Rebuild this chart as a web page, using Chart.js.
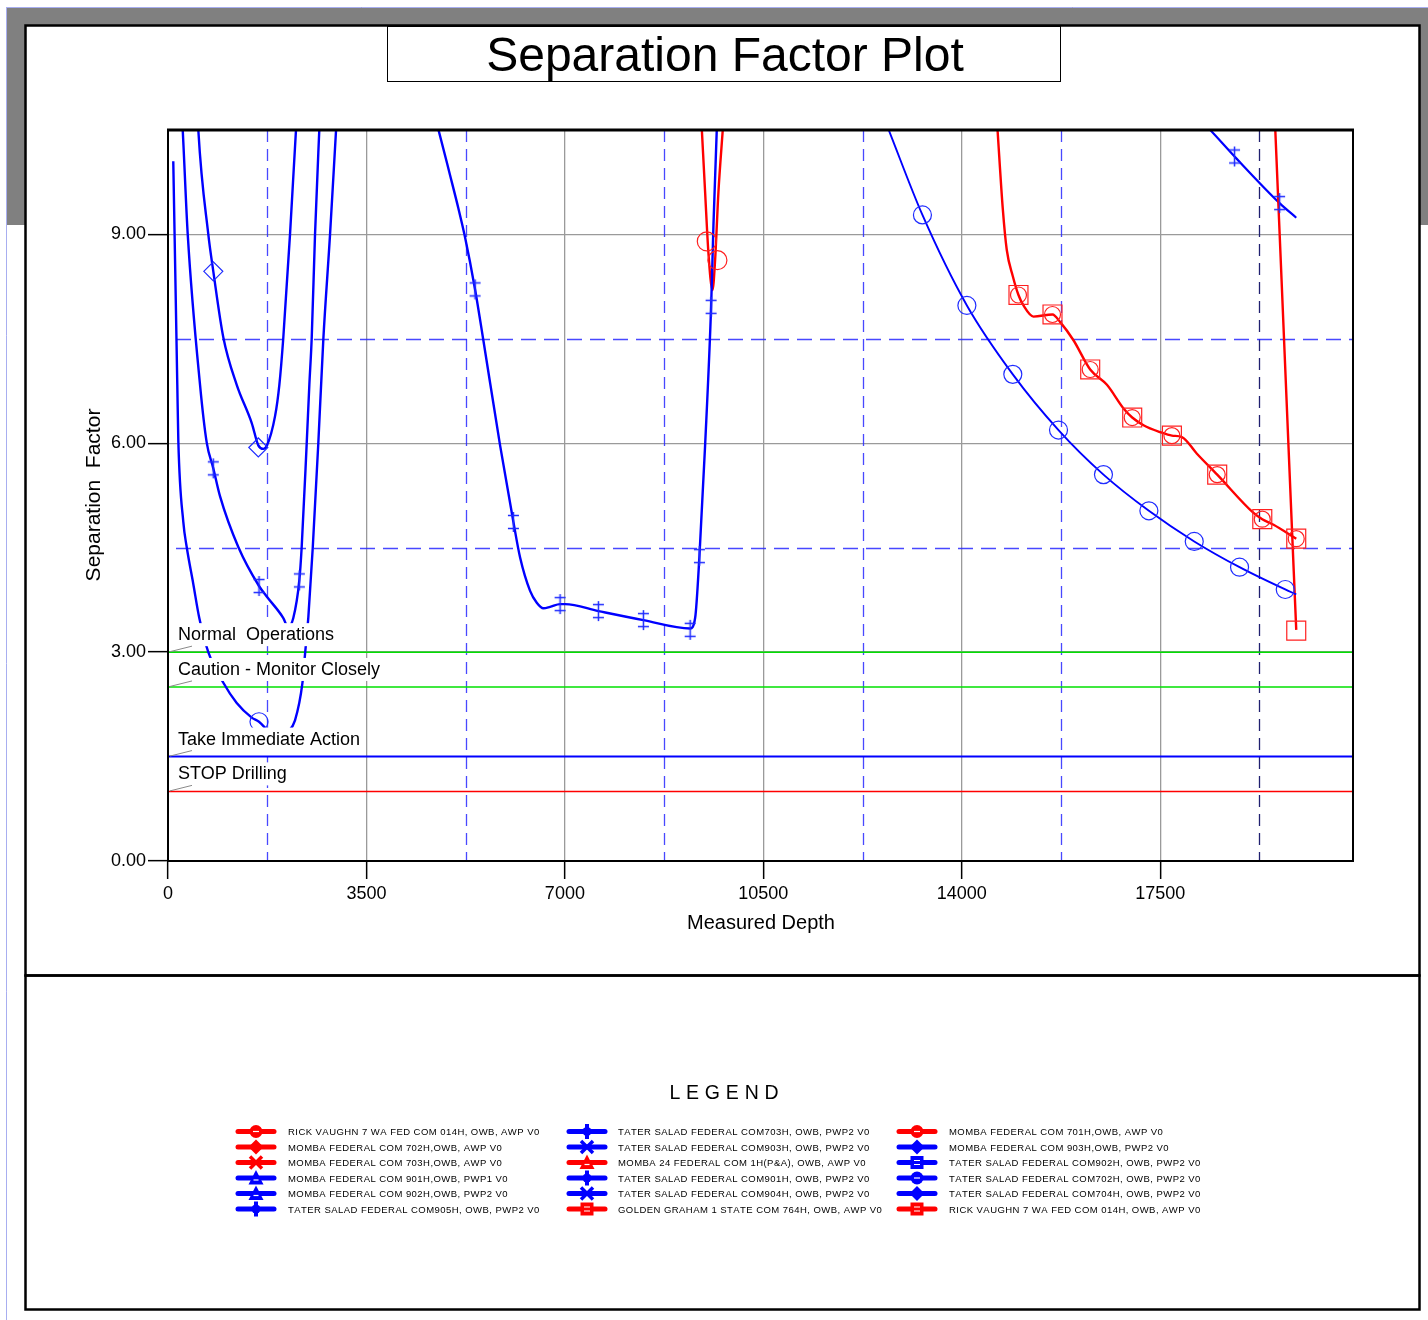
<!DOCTYPE html>
<html>
<head>
<meta charset="utf-8">
<script src="https://cdn.jsdelivr.net/npm/chart.js@4.4.1/dist/chart.umd.min.js"></script>
<style>
html,body{margin:0;padding:0;background:#fff;}
#wrap{position:relative;width:1428px;height:1320px;}
canvas{display:block;}
</style>
</head>
<body>
<div id="wrap"><canvas id="c" width="1428" height="1320"></canvas></div>
<script>
// ---------- axes ----------
const X_TICKS = [0, 3500, 7000, 10500, 14000, 17500];
const Y_TICKS = [0, 3, 6, 9];
const X_MINOR = [1750, 5250, 8750, 12250, 15750, 19250];
const Y_MINOR = [4.5, 7.5];
const X_MAX = 20900;
const Y_MAX = 10.5;

// ---------- separation-factor zones ----------
const ZONE_SF = [3.0, 2.5, 1.5, 1.0];
const ZONE_LABELS = ['Normal  Operations', 'Caution - Monitor Closely', 'Take Immediate Action', 'STOP Drilling'];

// ---------- offset wells (measured depth / separation factor) ----------
// left U, circle marker
const mdA = [93, 164, 182, 270, 330, 446, 552, 711, 976, 1212, 1477, 1605, 1780, 1950, 2120, 2240, 2370, 2420, 2475, 2553, 2651, 2740, 2858, 2964, 3030];
const sfA = [10.05, 6.84, 6.04, 4.87, 4.51, 3.98, 3.49, 3.00, 2.56, 2.27, 2.06, 2.00, 1.86, 1.78, 1.86, 2.02, 2.55, 3.00, 3.50, 4.50, 6.00, 7.50, 9.00, 10.50, 11.40];
const mkA_md = [1605];
const mkA_sf = [2.00];

// left U, double-cross markers
const mdB = [229, 259, 348, 565, 683, 799, 917, 1240, 1605, 1741, 2034, 2117, 2210, 2316, 2358, 2447, 2493, 2535, 2593, 2669, 2690];
const sfB = [10.94, 10.51, 9.00, 6.84, 6.01, 5.64, 5.24, 4.51, 3.95, 3.80, 3.49, 3.36, 3.49, 4.03, 4.51, 6.01, 6.84, 7.52, 9.00, 10.51, 10.90];
const mkB_md = [799, 1605, 2316];
const mkB_sf = [5.64, 3.95, 4.03];

// left U, diamond markers
const mdC = [512, 534, 711, 799, 976, 1212, 1477, 1593, 1681, 1741, 1888, 1964, 2034, 2152, 2258, 2293];
const sfC = [10.94, 10.51, 9.00, 8.47, 7.52, 6.84, 6.29, 5.97, 5.92, 5.96, 6.39, 6.84, 7.52, 9.00, 10.51, 10.94];
const mkC_md = [799, 1593];
const mkC_sf = [8.47, 5.94];

// middle well, double-cross markers
const mdD = [4622, 4768, 4975, 5120, 5239, 5416, 5562, 5857, 6092, 6210, 6386, 6504, 6621, 6739, 6915, 7003, 7591, 8385, 9209, 9297, 9373, 9473, 9579, 9620, 9679, 9702];
const sfD = [10.94, 10.51, 9.85, 9.38, 8.96, 8.21, 7.48, 5.97, 4.87, 4.36, 3.88, 3.71, 3.63, 3.65, 3.69, 3.69, 3.59, 3.46, 3.34, 3.49, 4.38, 5.97, 7.96, 9.13, 10.51, 10.94];
const mkD_md = [5416, 6092, 6915, 7591, 8385, 9209, 9373, 9579];
const mkD_sf = [8.21, 4.87, 3.69, 3.59, 3.46, 3.32, 4.38, 7.96];

// red U near 9600, circle markers
const mdE = [9380, 9415, 9473, 9532, 9603, 9650, 9708, 9785, 9810];
const sfE = [11.05, 10.51, 9.61, 8.73, 8.20, 8.64, 9.61, 10.51, 10.80];
const mkE_md = [9503, 9690];
const mkE_sf = [8.90, 8.63];

// right blue well, circle markers
const mdF = [12600, 12707, 13306, 14090, 14900, 15706, 16499, 17300, 18100, 18899, 19705, 19899];
const sfF = [10.73, 10.51, 9.28, 7.98, 6.99, 6.19, 5.55, 5.03, 4.59, 4.22, 3.90, 3.83];
const mkF_md = [13306, 14090, 14900, 15706, 16499, 17300, 18100, 18899, 19705];
const mkF_sf = [9.28, 7.98, 6.99, 6.19, 5.55, 5.03, 4.59, 4.22, 3.90];

// right red well (square + circle markers)
const mdG = [14600, 14630, 14723, 14793, 14900, 15000, 15088, 15264, 15600, 15736, 15970, 16265, 16560, 16853, 17006, 17205, 17500, 17706, 17882, 18147, 18505, 19146, 19300, 19499, 19899];
const sfG = [10.88, 10.51, 9.37, 8.78, 8.40, 8.13, 7.98, 7.82, 7.85, 7.74, 7.48, 7.06, 6.84, 6.50, 6.37, 6.26, 6.16, 6.11, 6.09, 5.85, 5.55, 5.00, 4.91, 4.83, 4.63];
const mkG_md = [15000, 15600, 16265, 17006, 17706, 18505, 19300, 19899];
const mkG_sf = [8.13, 7.85, 7.06, 6.37, 6.11, 5.55, 4.91, 4.63];

// steep red well at TD, square marker
const mdH = [19504, 19529, 19640, 19760, 19855, 19899];
const sfH = [11.00, 10.51, 8.35, 6.00, 4.16, 3.32];
const mkH_md = [19899];
const mkH_sf = [3.31];

// top right blue well, double-cross markers
const mdI = [18200, 18370, 18811, 19605, 19899];
const sfI = [10.65, 10.51, 10.12, 9.45, 9.24];
const mkI_md = [18811, 19605];
const mkI_sf = [10.12, 9.45];

// ---------- legend ----------
const LEGEND_COL1 = ['RICK VAUGHN 7 WA FED COM 014H, OWB, AWP V0', 'MOMBA FEDERAL COM 702H,OWB, AWP V0', 'MOMBA FEDERAL COM 703H,OWB, AWP V0', 'MOMBA FEDERAL COM 901H,OWB, PWP1 V0', 'MOMBA FEDERAL COM 902H,OWB, PWP2 V0', 'TATER SALAD FEDERAL COM905H, OWB, PWP2 V0'];
const LEGEND_COL2 = ['TATER SALAD FEDERAL COM703H, OWB, PWP2 V0', 'TATER SALAD FEDERAL COM903H, OWB, PWP2 V0', 'MOMBA 24 FEDERAL COM 1H(P&A), OWB, AWP V0', 'TATER SALAD FEDERAL COM901H, OWB, PWP2 V0', 'TATER SALAD FEDERAL COM904H, OWB, PWP2 V0', 'GOLDEN GRAHAM 1 STATE COM 764H, OWB, AWP V0'];
const LEGEND_COL3 = ['MOMBA FEDERAL COM 701H,OWB, AWP V0', 'MOMBA FEDERAL COM 903H,OWB, PWP2 V0', 'TATER SALAD FEDERAL COM902H, OWB, PWP2 V0', 'TATER SALAD FEDERAL COM702H, OWB, PWP2 V0', 'TATER SALAD FEDERAL COM704H, OWB, PWP2 V0', 'RICK VAUGHN 7 WA FED COM 014H, OWB, AWP V0'];
const LEGEND_SYM1 = ['circle', 'diamond', 'x', 'triangle', 'triangle', 'plus'];
const LEGEND_SYM2 = ['plus', 'x', 'triangle', 'plus', 'x', 'square'];
const LEGEND_SYM3 = ['circle', 'diamond', 'square', 'circle', 'diamond', 'square'];
const LEGEND_CLR1 = ['r', 'r', 'r', 'b', 'b', 'b'];
const LEGEND_CLR2 = ['b', 'b', 'r', 'b', 'b', 'r'];
const LEGEND_CLR3 = ['r', 'b', 'b', 'b', 'b', 'r'];

// ---------- styling ----------
const FONT = '"Liberation Sans", Arial, Helvetica, sans-serif';
const BLUE = '#0000ff', RED = '#ff0000';
const MK_BLUE = '#1f2cff', MK_RED = '#ff2020';

function pts(md, sf) { return md.map((x, i) => ({ x: x, y: sf[i] })); }

function makeDagger(color) {
  const c = document.createElement('canvas');
  c.width = 13; c.height = 22;
  const g = c.getContext('2d');
  g.strokeStyle = color; g.lineWidth = 1.5;
  g.beginPath();
  g.moveTo(6.5, 1); g.lineTo(6.5, 21);
  g.moveTo(1, 4.5); g.lineTo(12, 4.5);
  g.moveTo(1, 17.5); g.lineTo(12, 17.5);
  g.stroke();
  return c;
}
const DAGGER = makeDagger(MK_BLUE);

function curve(md, sf, color, width) {
  return { data: pts(md, sf), borderColor: color, borderWidth: width, pointRadius: 0, pointHoverRadius: 0,
           cubicInterpolationMode: 'monotone', fill: false };
}
function markers(md, sf, color, style, r) {
  return { data: pts(md, sf), showLine: false, pointStyle: style, pointRadius: r, pointHoverRadius: r,
           pointBorderColor: color, pointBackgroundColor: 'rgba(0,0,0,0)', pointBorderWidth: 1.2 };
}
function zone(v, color, width) {
  return { data: [{ x: 0, y: v }, { x: X_MAX, y: v }], borderColor: color, borderWidth: width, pointRadius: 0, pointHoverRadius: 0, fill: false };
}

const datasets = [
  markers(mkA_md, mkA_sf, MK_BLUE, 'circle', 9),
  markers(mkB_md, mkB_sf, MK_BLUE, DAGGER, 6),
  markers(mkC_md, mkC_sf, MK_BLUE, 'rectRot', 9.5),
  markers(mkD_md, mkD_sf, MK_BLUE, DAGGER, 6),
  markers(mkE_md, mkE_sf, MK_RED, 'circle', 9.5),
  markers(mkF_md, mkF_sf, MK_BLUE, 'circle', 9),
  markers(mkG_md, mkG_sf, MK_RED, 'rect', 13.4),
  markers(mkG_md, mkG_sf, MK_RED, 'circle', 8),
  markers(mkH_md, mkH_sf, MK_RED, 'rect', 13.4),
  markers(mkI_md, mkI_sf, MK_BLUE, DAGGER, 6),
  curve(mdA, sfA, BLUE, 2.4),
  curve(mdB, sfB, BLUE, 2.4),
  curve(mdC, sfC, BLUE, 2.4),
  curve(mdD, sfD, BLUE, 2.4),
  curve(mdE, sfE, RED, 2.4),
  curve(mdF, sfF, BLUE, 1.9),
  curve(mdG, sfG, RED, 2.4),
  curve(mdH, sfH, RED, 2.4),
  curve(mdI, sfI, BLUE, 2.2),
  zone(ZONE_SF[0], '#00e000', 1.5),
  zone(ZONE_SF[1], '#00e000', 1.5),
  zone(ZONE_SF[2], '#0000ff', 2),
  zone(ZONE_SF[3], '#ff0000', 1.5)
];

function spacedText(ctx, text, x, y, spacing, align) {
  let w = 0;
  for (const ch of text) w += ctx.measureText(ch).width + spacing;
  w -= spacing;
  let cx = align === 'center' ? x - w / 2 : x;
  for (const ch of text) { ctx.fillText(ch, cx, y); cx += ctx.measureText(ch).width + spacing; }
}

function drawSym(ctx, cx, cy, color, sym) {
  ctx.save();
  ctx.strokeStyle = color; ctx.fillStyle = color;
  ctx.lineCap = 'round';
  ctx.lineWidth = 5;
  ctx.beginPath(); ctx.moveTo(cx - 18, cy); ctx.lineTo(cx + 18, cy); ctx.stroke();
  ctx.lineCap = 'butt';
  if (sym === 'circle') {
    ctx.beginPath(); ctx.arc(cx, cy, 6.5, 0, Math.PI * 2); ctx.fill();
    ctx.strokeStyle = '#fff'; ctx.lineWidth = 1.2;
    ctx.beginPath(); ctx.moveTo(cx - 3, cy); ctx.lineTo(cx + 3, cy); ctx.stroke();
  } else if (sym === 'diamond') {
    ctx.beginPath(); ctx.moveTo(cx, cy - 7.5); ctx.lineTo(cx + 7.5, cy); ctx.lineTo(cx, cy + 7.5); ctx.lineTo(cx - 7.5, cy); ctx.closePath(); ctx.fill();
  } else if (sym === 'x') {
    ctx.lineWidth = 3.5;
    ctx.beginPath(); ctx.moveTo(cx - 6, cy - 6); ctx.lineTo(cx + 6, cy + 6); ctx.moveTo(cx + 6, cy - 6); ctx.lineTo(cx - 6, cy + 6); ctx.stroke();
  } else if (sym === 'triangle') {
    ctx.beginPath(); ctx.moveTo(cx, cy - 8); ctx.lineTo(cx + 7.5, cy + 6.5); ctx.lineTo(cx - 7.5, cy + 6.5); ctx.closePath(); ctx.fill();
    ctx.strokeStyle = '#fff'; ctx.lineWidth = 1.2;
    ctx.beginPath(); ctx.moveTo(cx - 2.5, cy + 2); ctx.lineTo(cx + 2.5, cy + 2); ctx.stroke();
  } else if (sym === 'square') {
    ctx.fillRect(cx - 6.5, cy - 6.5, 13, 13);
    ctx.strokeStyle = '#fff'; ctx.lineWidth = 1.1;
    ctx.beginPath(); ctx.moveTo(cx - 3, cy - 2); ctx.lineTo(cx + 3, cy - 2); ctx.moveTo(cx - 3, cy + 2); ctx.lineTo(cx + 3, cy + 2); ctx.stroke();
  } else if (sym === 'plus') {
    ctx.lineWidth = 4;
    ctx.beginPath(); ctx.moveTo(cx, cy - 7.5); ctx.lineTo(cx, cy + 7.5); ctx.stroke();
    ctx.beginPath(); ctx.arc(cx, cy, 4.5, 0, Math.PI * 2); ctx.fill();
  }
  ctx.restore();
}

const pagePlugin = {
  id: 'page',
  beforeDraw(chart) {
    const ctx = chart.ctx;
    ctx.save();
    ctx.fillStyle = '#fff'; ctx.fillRect(0, 0, 1428, 1320);
    ctx.fillStyle = '#808080'; ctx.fillRect(6, 7, 1422, 218);
    ctx.strokeStyle = '#a8aef0'; ctx.lineWidth = 1;
    ctx.beginPath(); ctx.moveTo(6.5, 7); ctx.lineTo(6.5, 1320); ctx.stroke();
    ctx.beginPath(); ctx.moveTo(6, 7.5); ctx.lineTo(1428, 7.5); ctx.stroke();
    // page frames
    ctx.fillStyle = '#fff';
    ctx.fillRect(25, 25, 1395, 1285);
    ctx.strokeStyle = '#000'; ctx.lineWidth = 2.5;
    ctx.strokeRect(25.5, 25.5, 1394, 950);
    ctx.strokeRect(25.5, 975.5, 1394, 334);
    // title box
    ctx.lineWidth = 1;
    ctx.strokeRect(387.5, 26.5, 673, 55);
    ctx.fillStyle = '#000';
    ctx.font = '48px ' + FONT;
    ctx.textAlign = 'center'; ctx.textBaseline = 'alphabetic';
    ctx.fillText('Separation Factor Plot', 725, 71);
    // axis titles
    ctx.font = '20px ' + FONT;
    ctx.fillText('Measured Depth', 761, 929);
    ctx.save();
    ctx.translate(100, 495); ctx.rotate(-Math.PI / 2);
    ctx.font = '21px ' + FONT;
    ctx.fillText('Separation  Factor', 0, 0);
    ctx.restore();
    // legend
    ctx.font = '19.5px ' + FONT;
    ctx.textAlign = 'left';
    spacedText(ctx, 'LEGEND', 724, 1099, 5.8, 'center');
    ctx.font = '9.5px ' + FONT;
    const cols = [[LEGEND_COL1, LEGEND_SYM1, LEGEND_CLR1, 256, 288], [LEGEND_COL2, LEGEND_SYM2, LEGEND_CLR2, 587, 618], [LEGEND_COL3, LEGEND_SYM3, LEGEND_CLR3, 917, 949]];
    cols.forEach(([names, syms, clrs, mx, tx]) => {
      names.forEach((name, i) => {
        const cy = 1131.5 + i * 15.5;
        drawSym(ctx, mx, cy, clrs[i] === 'r' ? RED : BLUE, syms[i]);
        ctx.fillStyle = '#000';
        spacedText(ctx, name, tx, cy + 3.5, 0.45, 'left');
      });
    });
    ctx.restore();
  },
  beforeDatasetsDraw(chart) {
    const { ctx, chartArea: a, scales: { x, y } } = chart;
    ctx.save();
    ctx.lineWidth = 1.3;
    ctx.setLineDash([12, 7]);
    X_MINOR.forEach((v, i) => {
      const px = Math.round(x.getPixelForValue(v)) + 0.5;
      ctx.strokeStyle = i === X_MINOR.length - 1 ? '#202070' : 'rgba(40,40,255,0.85)';
      ctx.beginPath(); ctx.moveTo(px, a.top); ctx.lineTo(px, a.bottom); ctx.stroke();
    });
    ctx.strokeStyle = 'rgba(40,40,255,0.85)';
    ctx.setLineDash([15, 8]);
    Y_MINOR.forEach(v => {
      const py = Math.round(y.getPixelForValue(v)) + 0.5;
      ctx.beginPath(); ctx.moveTo(a.left + 8, py); ctx.lineTo(a.right, py); ctx.stroke();
    });
    ctx.restore();
  },
  afterDatasetsDraw(chart) {
    const { ctx, chartArea: a, scales: { y } } = chart;
    ctx.save();
    ctx.font = '18px ' + FONT;
    ctx.textAlign = 'left'; ctx.textBaseline = 'alphabetic';
    ZONE_SF.forEach((v, i) => {
      const py = y.getPixelForValue(v);
      const tx = a.left + 10, base = py - 12;
      const w = ctx.measureText(ZONE_LABELS[i]).width;
      ctx.fillStyle = '#fff';
      ctx.fillRect(tx - 3, base - 17, w + 6, 23);
      ctx.strokeStyle = '#8a8a8a'; ctx.lineWidth = 1;
      ctx.beginPath(); ctx.moveTo(a.left + 2, py - 0.5); ctx.lineTo(a.left + 24, py - 6); ctx.stroke();
      ctx.fillStyle = '#000';
      ctx.fillText(ZONE_LABELS[i], tx, base);
    });
    ctx.strokeStyle = '#000';
    ctx.lineWidth = 2;
    ctx.strokeRect(a.left, a.top, a.right - a.left, a.bottom - a.top);
    ctx.lineWidth = 3;
    ctx.beginPath(); ctx.moveTo(a.left - 1, a.top); ctx.lineTo(a.right + 1, a.top); ctx.stroke();
    ctx.restore();
  }
};

new Chart(document.getElementById('c'), {
  type: 'line',
  data: { datasets: datasets },
  options: {
    responsive: false,
    animation: false,
    events: [],
    layout: { padding: { left: 0, top: 130, right: 75, bottom: 0 } },
    plugins: { legend: { display: false }, tooltip: { enabled: false }, title: { display: false } },
    scales: {
      x: {
        type: 'linear', min: 0, max: X_MAX,
        afterBuildTicks: s => { s.ticks = X_TICKS.map(v => ({ value: v })); },
        afterFit: s => { s.height = 459; },
        ticks: { color: '#000', font: { family: FONT, size: 18 }, padding: 4, maxRotation: 0, autoSkip: false, callback: v => String(v) },
        grid: { color: c => (c.tick && c.tick.value === 0) ? 'rgba(0,0,0,0)' : '#9a9a9a', lineWidth: 1.3,
                tickColor: '#000', tickLength: 18, tickWidth: 1.5 },
        border: { color: '#000', width: 2 }
      },
      y: {
        type: 'linear', min: 0, max: Y_MAX,
        afterBuildTicks: s => { s.ticks = Y_TICKS.map(v => ({ value: v })); },
        afterFit: s => { s.width = 168; },
        ticks: { color: '#000', font: { family: FONT, size: 18 }, padding: 2, autoSkip: false, callback: v => Number(v).toFixed(2) },
        grid: { color: c => (c.tick && c.tick.value === 0) ? 'rgba(0,0,0,0)' : '#9a9a9a', lineWidth: 1.3,
                tickColor: '#000', tickLength: 20, tickWidth: 1.5 },
        border: { color: '#000', width: 2 }
      }
    }
  },
  plugins: [pagePlugin]
});
</script>
</body>
</html>
